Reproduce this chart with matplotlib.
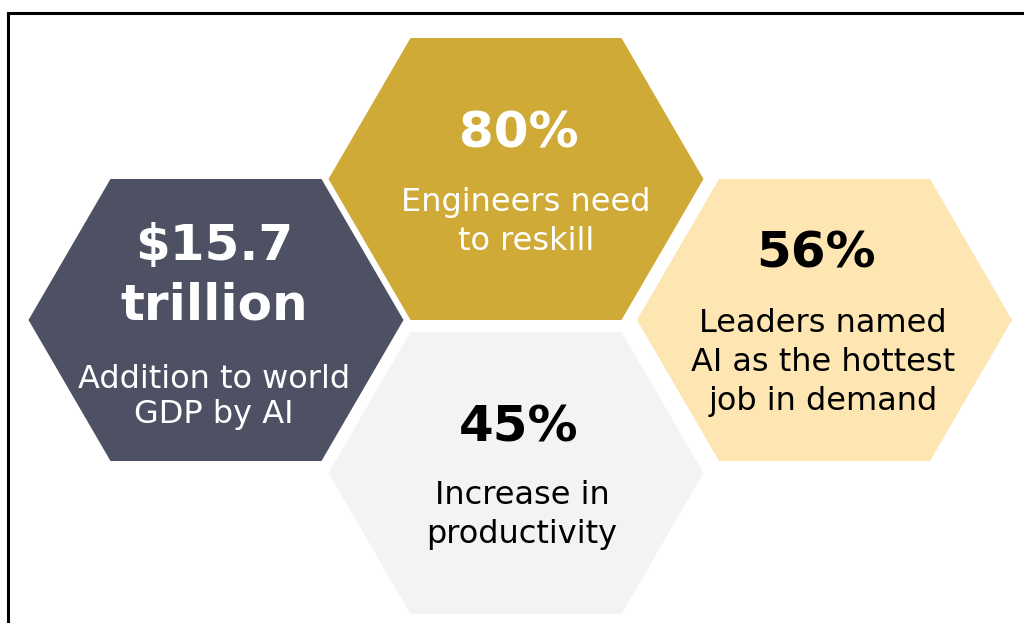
import matplotlib
matplotlib.use("Agg")
import matplotlib.pyplot as plt
from matplotlib.patches import Polygon
from matplotlib.lines import Line2D

# stat cards, left to right
values = [["$15.7", "trillion"], ["80%"], ["45%"], ["56%"]]
descriptions = [["Addition to world", "GDP by AI"],
                ["Engineers need", "to reskill"],
                ["Increase in", "productivity"],
                ["Leaders named", "AI as the hottest", "job in demand"]]
fills = ["#4E5163", "#CFAA37", "#F2F3F5", "#FDE6B1"]
text_colors = ["white", "white", "black", "black"]

# layout in pixel units (y grows downwards)
centers = [(216, 320), (516, 179), (516, 473), (824.5, 320)]
value_x = [214, 519, 519, 816]
value_base = [260, 147, 442, 268]
desc_x = [214, 526, 522, 823]
desc_base = [388, 211, 504, 332]
desc_step = [35, 39, 39, 39]
VALUE_STEP = 60
R, HALF_TOP, HALF_H = 187.5, 105.5, 141

FONT = "DejaVu Sans"

fig = plt.figure(figsize=(10.24, 6.23), dpi=100)
ax = fig.add_axes([0, 0, 1, 1])
ax.set_xlim(0, 1024)
ax.set_ylim(623, 0)
ax.axis("off")


def hexagon(cx, cy):
    return [(cx - R, cy), (cx - HALF_TOP, cy - HALF_H), (cx + HALF_TOP, cy - HALF_H),
            (cx + R, cy), (cx + HALF_TOP, cy + HALF_H), (cx - HALF_TOP, cy + HALF_H)]


for i, (cx, cy) in enumerate(centers):
    ax.add_patch(Polygon(hexagon(cx, cy), closed=True, facecolor=fills[i],
                         edgecolor="none"))
    for k, line in enumerate(values[i]):
        ax.text(value_x[i], value_base[i] + k * VALUE_STEP, line, ha="center",
                va="baseline", fontsize=36, fontweight="bold",
                color=text_colors[i], family=FONT)
    for k, line in enumerate(descriptions[i]):
        ax.text(desc_x[i], desc_base[i] + k * desc_step[i], line, ha="center",
                va="baseline", fontsize=23, color=text_colors[i], family=FONT)

# frame: top and left edges only
ax.add_line(Line2D([8, 1024], [13, 13], color="black", lw=2.2))
ax.add_line(Line2D([8, 8], [13, 623], color="black", lw=2.2))

fig.savefig("out.png", dpi=100, facecolor="white")
